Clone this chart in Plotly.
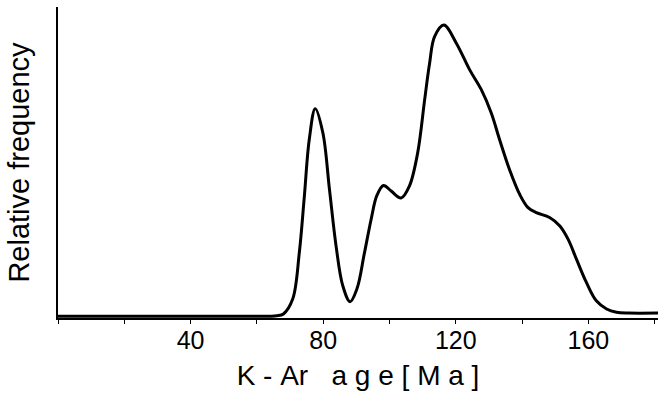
import plotly.graph_objects as go

# K-Ar age (Ma) and relative frequency
age = [0, 20, 40, 60, 66, 68, 70.8, 72.8, 74.3, 75.8, 77.6, 79.9, 81.9, 83.9, 85.9,
       88.1, 90.2, 92.4, 94.5, 96.2, 98.2, 100.5, 103.5, 106, 108.5, 110.6, 112.1,
       113.6, 116.4, 120.2, 124.2, 127.7, 130.7, 133.2, 136.2, 139.3, 141.8, 144.3,
       148.3, 151.4, 153.9, 156.4, 159.4, 162.4, 165.5, 168.5, 172, 181]
freq = [0, 0, 0, 0, 0.002, 0.008, 0.059, 0.219, 0.41, 0.607, 0.713, 0.63, 0.435, 0.24,
        0.105, 0.05, 0.095, 0.215, 0.335, 0.415, 0.449, 0.43, 0.406, 0.447, 0.561,
        0.743, 0.869, 0.96, 1.0, 0.937, 0.846, 0.778, 0.698, 0.607, 0.504, 0.418,
        0.373, 0.356, 0.339, 0.31, 0.264, 0.196, 0.116, 0.053, 0.025, 0.014, 0.011, 0.011]

tick_vals = [0, 20, 40, 60, 80, 100, 120, 140, 160, 180]
tick_text = ["", "", "40", "", "80", "", "120", "", "160", ""]

S = "\u00a0"
x_title = "K" + S + "-" + S + "Ar" + S * 3 + S.join(list("age")) + S + S.join(list("[Ma]"))
y_title = "Relative frequency"

fig = go.Figure()
fig.add_trace(go.Scatter(
    x=age, y=freq, mode="lines",
    line=dict(color="black", width=3, shape="spline", smoothing=1.0),
    hoverinfo="skip", showlegend=False,
))

fig.update_layout(
    width=661, height=397,
    margin=dict(l=58, r=3, t=7, b=79),
    paper_bgcolor="white", plot_bgcolor="white",
    font=dict(family="Liberation Sans, Arial, sans-serif", color="black"),
    xaxis=dict(
        range=[0, 181], showgrid=False, zeroline=False,
        showline=True, linecolor="black", linewidth=1.5,
        ticks="outside", ticklen=4, tickwidth=1, tickcolor="black",
        tickmode="array", tickvals=tick_vals, ticktext=tick_text,
        tickfont=dict(family="Liberation Sans Narrow, Arial Narrow, Liberation Sans, sans-serif", size=25),
        ticklabelstandoff=-5,
        title=dict(text=x_title, font=dict(size=28), standoff=13),
    ),
    yaxis=dict(
        range=[-0.006, 1.062], showgrid=False, zeroline=False,
        showline=True, linecolor="black", linewidth=1.5,
        showticklabels=False, ticks="",
        title=dict(text=y_title, font=dict(size=29), standoff=18),
    ),
)

fig.write_html("out.html")
